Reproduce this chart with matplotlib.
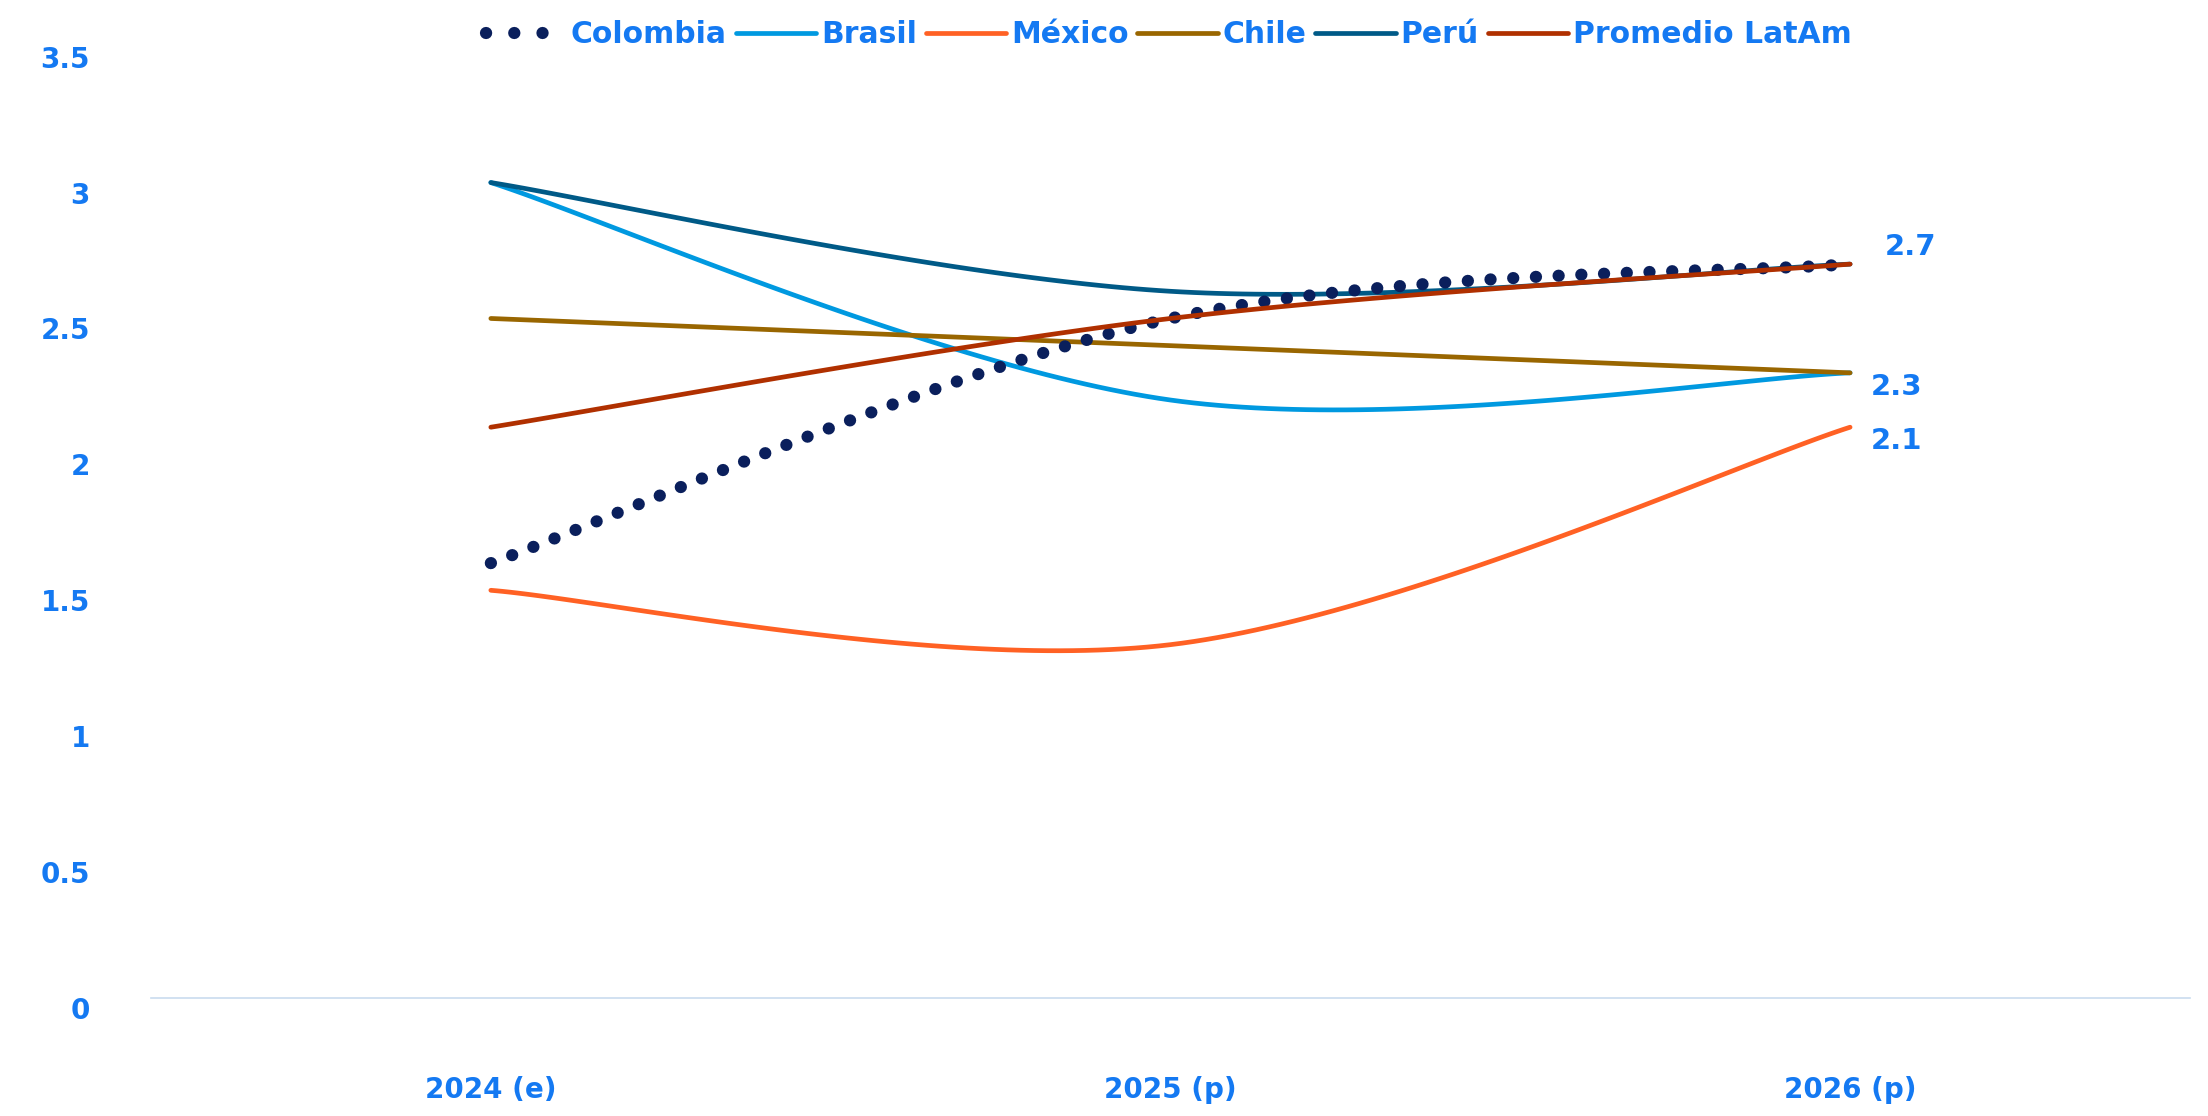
import numpy as np
import matplotlib.pyplot as plt
from matplotlib.lines import Line2D
from matplotlib.transforms import ScaledTranslation

plt.rcParams['font.family'] = ['DejaVu Sans']
plt.rcParams['font.weight'] = 'bold'

# crecimiento del PIB (%)
years = ["2024 (e)", "2025 (p)", "2026 (p)"]
colombia = [1.6, 2.5, 2.7]
brasil = [3.0, 2.2, 2.3]
mexico = [1.5, 1.3, 2.1]
chile = [2.5, 2.4, 2.3]
peru = [3.0, 2.6, 2.7]
promedio = [2.1, 2.5, 2.7]

TXT = '#1479F2'


def smooth(x, y, n=60):
    # curva suavizada tipo Excel (bezier con tangentes de los vecinos)
    p = np.column_stack([x, y]).astype(float)
    pts = np.vstack([p[0], p, p[-1]])
    t = np.linspace(0, 1, n)[:, None]
    out = []
    for i in range(1, len(pts) - 2):
        p0, p3 = pts[i], pts[i + 1]
        c1 = p0 + (pts[i + 1] - pts[i - 1]) / 6
        c2 = p3 - (pts[i + 2] - pts[i]) / 6
        seg = (1 - t) ** 3 * p0 + 3 * (1 - t) ** 2 * t * c1 + 3 * (1 - t) * t ** 2 * c2 + t ** 3 * p3
        out.append(seg if i == 1 else seg[1:])
    seg = np.vstack(out)
    return seg[:, 0], seg[:, 1]


fig = plt.figure(figsize=(22.08, 11.16), dpi=100)
ax = fig.add_axes([0.0684, 0.1057, 0.9234, 0.8525])
x = np.arange(len(years))

series = [
    ("Brasil", brasil, '#0099E0'),
    ("México", mexico, '#FF6124'),
    ("Chile", chile, '#996600'),
    ("Perú", peru, '#005A87'),
]
handles = {}
for name, vals, col in series:
    sx, sy = smooth(x, vals)
    handles[name], = ax.plot(sx, sy, color=col, lw=3.4, solid_capstyle='round', label=name)

sx, sy = smooth(x, colombia)
ax.plot(sx, sy, color='#0A1F5C', lw=8.8, linestyle=(0, (0.01, 1.85)),
        dash_capstyle='round', label="Colombia")
# en la leyenda solo caben tres puntos
handles["Colombia"] = Line2D([], [], color='#0A1F5C', lw=8.8, linestyle=(0, (0.01, 2.3)),
                             dash_capstyle='round')
sx, sy = smooth(x, promedio)
handles["Promedio LatAm"], = ax.plot(sx, sy, color='#B03000', lw=3.4, solid_capstyle='round',
                                     label="Promedio LatAm")

# etiquetas de valor al final
ax.annotate(f"{promedio[-1]:.1f}", (x[-1], promedio[-1]), xytext=(25, 12), textcoords='offset points',
            color=TXT, fontsize=21, fontweight='bold', va='center', ha='left')
ax.annotate(f"{chile[-1]:.1f}", (x[-1], chile[-1]), xytext=(15, -10), textcoords='offset points',
            color=TXT, fontsize=21, fontweight='bold', va='center', ha='left')
ax.annotate(f"{mexico[-1]:.1f}", (x[-1], mexico[-1]), xytext=(15, -10), textcoords='offset points',
            color=TXT, fontsize=21, fontweight='bold', va='center', ha='left')

ax.set_xlim(-0.5, 2.5)
ax.set_ylim(0, 3.5)
ax.set_xticks(x)
ax.set_xticklabels(years)
ax.set_yticks(np.arange(0, 3.51, 0.5))
ax.set_yticklabels(["0", "0.5", "1", "1.5", "2", "2.5", "3", "3.5"])
ax.tick_params(axis='both', length=0, labelcolor=TXT, labelsize=20)
ax.tick_params(axis='y', pad=44)
ax.tick_params(axis='x', pad=56)
# las etiquetas del eje y quedan un poco por debajo de su valor
shift = ScaledTranslation(0, -0.1, fig.dpi_scale_trans)
for lab in ax.get_yticklabels():
    lab.set_transform(lab.get_transform() + shift)
for s in ['top', 'right', 'left']:
    ax.spines[s].set_visible(False)
ax.spines['bottom'].set_color('#C9DCEF')
ax.spines['bottom'].set_linewidth(1.2)

order = ["Colombia", "Brasil", "México", "Chile", "Perú", "Promedio LatAm"]
leg = fig.legend([handles[k] for k in order], order, loc='center', bbox_to_anchor=(0.5293, 0.969),
                 ncol=6, frameon=False, fontsize=21.5, handlelength=2.7, handletextpad=0.15,
                 columnspacing=0.3)
for t in leg.get_texts():
    t.set_color(TXT)
    t.set_fontweight('bold')

fig.savefig('out.png', dpi=100)
